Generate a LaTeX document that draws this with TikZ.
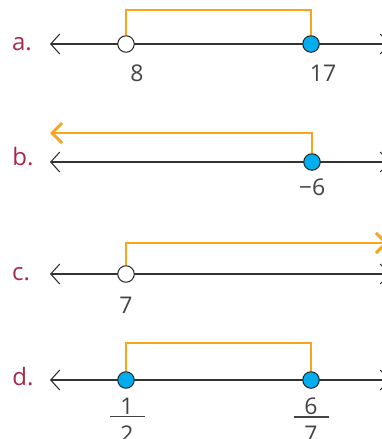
\documentclass[tikz,border=0pt]{standalone}
\usepackage{fontspec}
\setmainfont{Open Sans}
\usetikzlibrary{arrows.meta, positioning, calc}
\definecolor{bracketorange}{HTML}{F7A51E}
\definecolor{dotblue}{HTML}{00AEEF}
\definecolor{partred}{HTML}{A6294B}
\definecolor{numgray}{HTML}{444444}

\begin{document}
\begin{tikzpicture}[x=1pt, y=-1pt,
  numline/.style={line width=1.1pt, black!80,
    {Straight Barb[length=9pt,width=20pt]}-{Straight Barb[length=9pt,width=20pt]}},
  ray/.style={line width=2.9pt, bracketorange, line join=miter},
  rayend/.style={-{Straight Barb[length=10pt,width=20pt,line width=2.9pt]}},
  opendot/.style={circle, draw=black!85, fill=white, line width=1pt, minimum size=16.5pt, inner sep=0pt},
  fulldot/.style={opendot, fill=dotblue},
  partlabel/.style={partred, font=\fontsize{24}{28}\selectfont},
  numlabel/.style={numgray, font=\fontsize{23}{26}\selectfont},
  fracbar/.style={numgray, line width=1.3pt}
]
  \useasboundingbox (0,0) rectangle (382,439);

  % a.
  \node[partlabel] (la) at (22,44) {a.};
  \coordinate (aL) at (50,44);
  \coordinate (aR) at (390,44);
  \draw[numline] (aL) -- (aR);
  \node[opendot] (a8) at (126,44) {};
  \node[fulldot] (a17) at (311,44) {};
  \draw[ray] (a8.north) -- (a8.north |- 0,10) -| (a17.north);
  \node[numlabel] (n8) at (137,73) {8};
  \node[numlabel] (n17) at (323,73) {17};

  % b.
  \node[partlabel] (lb) at (23,157) {b.};
  \coordinate (bL) at (50,162);
  \coordinate (bR) at (390,162);
  \draw[numline] (bL) -- (bR);
  \node[fulldot] (bm6) at (312,162) {};
  \coordinate (bend) at (50,133);
  \draw[ray, rayend] (bm6.north) |- (bend);
  \node[numlabel] (nm6) at (312,187) {−6};

  % c.
  \node[partlabel] (lc) at (21,274) {c.};
  \coordinate (cL) at (50,274);
  \coordinate (cR) at (390,274);
  \draw[numline] (cL) -- (cR);
  \node[opendot] (c7) at (126,274) {};
  \coordinate (cend) at (388,243);
  \draw[ray, rayend] (c7.north) |- (cend);
  \node[numlabel] (n7) at (126,305) {7};

  % d.
  \node[partlabel] (ld) at (23,377) {d.};
  \coordinate (dL) at (50,380);
  \coordinate (dR) at (390,380);
  \draw[numline] (dL) -- (dR);
  \node[fulldot] (dhalf) at (126,380) {};
  \node[fulldot] (dsix) at (311,380) {};
  \draw[ray] (dhalf.north) -- (dhalf.north |- 0,343) -| (dsix.north);
  % fractions
  \node[numlabel] (nhalfnum) at (127,406) {1};
  \node[numlabel] (nhalfden) at (127,434) {2};
  \draw[fracbar] ($(nhalfnum.south)+(-17.5,-1)$) -- ($(nhalfnum.south)+(17.5,-1)$);
  \node[numlabel] (nsixnum) at (311,406) {6};
  \node[numlabel] (nsixden) at (311,434) {7};
  \draw[fracbar] ($(nsixnum.south)+(-17.5,-1)$) -- ($(nsixnum.south)+(17.5,-1)$);
\end{tikzpicture}
\end{document}
